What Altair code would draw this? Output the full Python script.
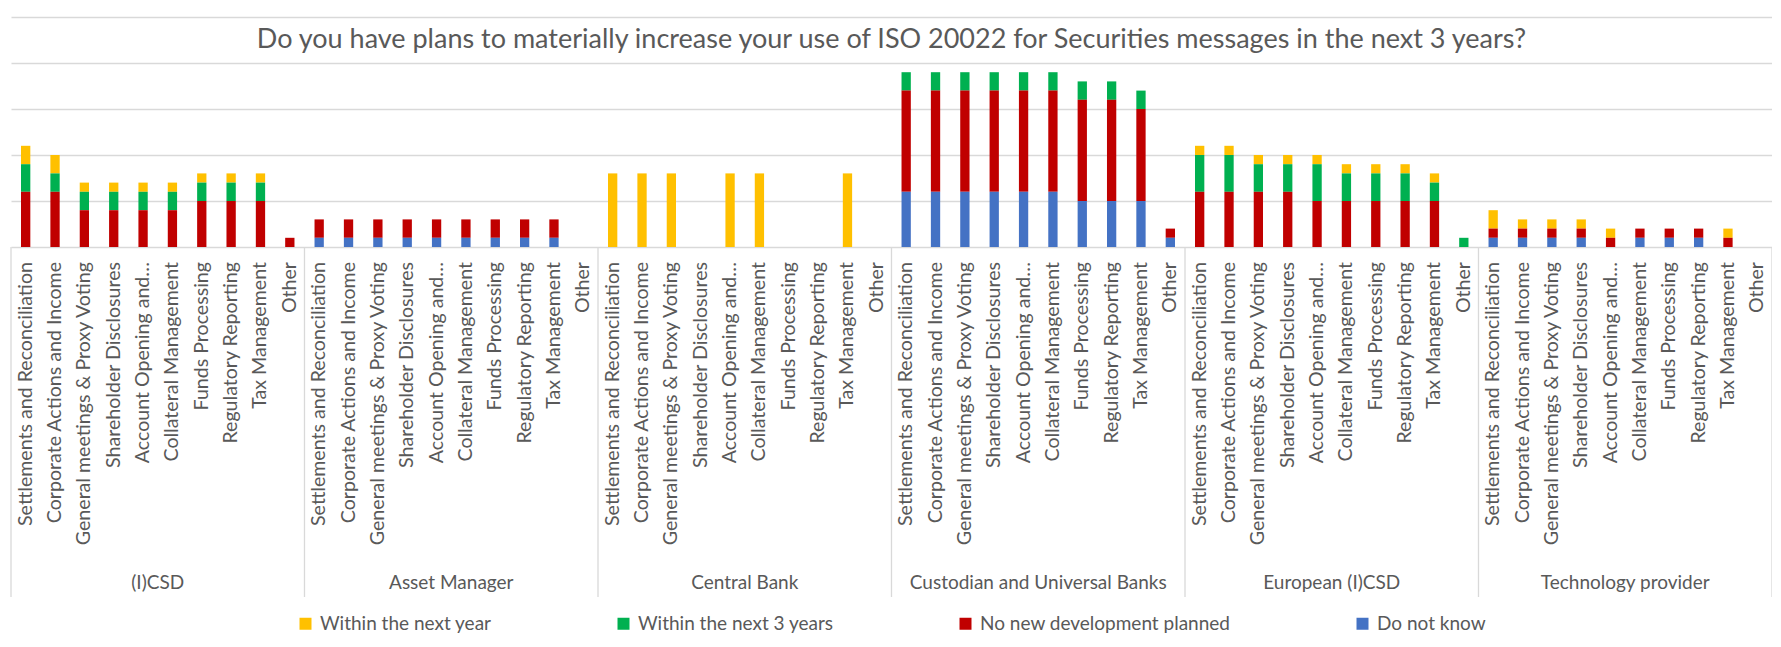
import altair as alt
import pandas as pd

groups = ["(I)CSD", "Asset Manager", "Central Bank", "Custodian and Universal Banks",
          "European (I)CSD", "Technology provider"]
topics = ["Settlements and Reconciliation", "Corporate Actions and Income",
          "General meetings & Proxy Voting", "Shareholder Disclosures",
          "Account Opening and…", "Collateral Management", "Funds Processing",
          "Regulatory Reporting", "Tax Management", "Other"]
series = ["Within the next year", "Within the next 3 years",
          "No new development planned", "Do not know"]
colors = ["#FFC000", "#00B050", "#C00000", "#4472C4"]
title_text = "Do you have plans to materially increase your use of ISO 20022 for Securities messages in the next 3 years?"

# values per group (10 topics each), group order as above
within_next_year = [
    2, 2, 1, 1, 1, 1, 1, 1, 1, 0,
    0, 0, 0, 0, 0, 0, 0, 0, 0, 0,
    8, 8, 8, 0, 8, 8, 0, 0, 8, 0,
    0, 0, 0, 0, 0, 0, 0, 0, 0, 0,
    1, 1, 1, 1, 1, 1, 1, 1, 1, 0,
    2, 1, 1, 1, 1, 0, 0, 0, 1, 0,
]
within_next_3_years = [
    3, 2, 2, 2, 2, 2, 2, 2, 2, 0,
    0, 0, 0, 0, 0, 0, 0, 0, 0, 0,
    0, 0, 0, 0, 0, 0, 0, 0, 0, 0,
    2, 2, 2, 2, 2, 2, 2, 2, 2, 0,
    4, 4, 3, 3, 4, 3, 3, 3, 2, 1,
    0, 0, 0, 0, 0, 0, 0, 0, 0, 0,
]
no_new_development = [
    6, 6, 4, 4, 4, 4, 5, 5, 5, 1,
    2, 2, 2, 2, 2, 2, 2, 2, 2, 0,
    0, 0, 0, 0, 0, 0, 0, 0, 0, 0,
    11, 11, 11, 11, 11, 11, 11, 11, 10, 1,
    6, 6, 6, 6, 5, 5, 5, 5, 5, 0,
    1, 1, 1, 1, 1, 1, 1, 1, 1, 0,
]
do_not_know = [
    0, 0, 0, 0, 0, 0, 0, 0, 0, 0,
    1, 1, 1, 1, 1, 1, 1, 1, 1, 0,
    0, 0, 0, 0, 0, 0, 0, 0, 0, 0,
    6, 6, 6, 6, 6, 6, 5, 5, 5, 1,
    0, 0, 0, 0, 0, 0, 0, 0, 0, 0,
    1, 1, 1, 1, 0, 1, 1, 1, 0, 0,
]

FONT = "Lato"
TXT = "#595959"
GRID = "#D9D9D9"
W, H = 1761, 230

all_vals = [within_next_year, within_next_3_years, no_new_development, do_not_know]
keys = []
topic_of_key = []
rows = []
for gi, g in enumerate(groups):
    for ti, t in enumerate(topics):
        idx = gi * 10 + ti
        key = f"{gi:02d}{ti:02d}|{t}"
        keys.append(key)
        topic_of_key.append(t)
        for si, s in enumerate(series):
            v = all_vals[si][idx]
            if v > 0:
                rows.append(dict(key=key, group=g, topic=t, series=s,
                                 value=v, stackorder=3 - si))
df = pd.DataFrame(rows)

xscale = alt.Scale(domain=keys, paddingInner=0, paddingOuter=0)

bars = alt.Chart(df).mark_bar(width=alt.RelativeBandSize(0.317)).encode(
    x=alt.X("key:N", scale=xscale, sort=keys, axis=None),
    y=alt.Y("value:Q", stack="zero",
            scale=alt.Scale(domain=[0, 25], nice=False),
            axis=alt.Axis(title=None, labels=False, ticks=False, domain=False,
                          values=[0, 5, 10, 15, 20, 25], gridColor=GRID, gridWidth=1.3)),
    color=alt.Color("series:N",
                    scale=alt.Scale(domain=series, range=colors),
                    legend=alt.Legend(orient="none", legendX=285, legendY=597,
                                      direction="horizontal", title=None,
                                      symbolType="square", symbolSize=144,
                                      symbolStrokeWidth=0, labelFont=FONT,
                                      labelFontSize=19, labelColor=TXT,
                                      labelOffset=5, columnPadding=122,
                                      padding=0, labelLimit=500)),
    order=alt.Order("stackorder:Q", sort="ascending"),
)

ldf = pd.DataFrame({"key": keys, "topic": topic_of_key})
topic_labels = alt.Chart(ldf).mark_text(
    font=FONT, fontSize=19.6, color=TXT, angle=270, align="right", baseline="middle"
).encode(
    x=alt.X("key:N", scale=xscale, sort=keys, axis=None),
    y=alt.value(245),
    text="topic:N",
)

gdf = pd.DataFrame({"group": groups,
                    "mid": [keys[gi * 10 + 4] for gi in range(len(groups))],
                    "start": [keys[gi * 10] for gi in range(len(groups))]})
edf = pd.DataFrame({"end": [keys[-1]]})

group_labels = alt.Chart(gdf).mark_text(
    font=FONT, fontSize=19, color=TXT, align="center", baseline="alphabetic"
).encode(
    x=alt.X("mid:N", scale=xscale, sort=keys, bandPosition=1, axis=None),
    y=alt.value(572),
    text="group:N",
)

seps = alt.Chart(gdf).mark_rule(color=GRID, strokeWidth=1.3).encode(
    x=alt.X("start:N", scale=xscale, sort=keys, bandPosition=0, axis=None),
    y=alt.value(H), y2=alt.value(580),
)
sep_end = alt.Chart(edf).mark_rule(color=GRID, strokeWidth=1.3).encode(
    x=alt.X("end:N", scale=xscale, sort=keys, bandPosition=1, axis=None),
    y=alt.value(H), y2=alt.value(580),
)

title = alt.Chart(pd.DataFrame({"t": [title_text]})).mark_text(
    font=FONT, fontSize=27, color=TXT, align="center", baseline="alphabetic"
).encode(x=alt.value(W / 2), y=alt.value(31), text="t:N")

chart = alt.layer(bars, seps, sep_end, topic_labels, group_labels, title).properties(
    width=W, height=H,
    padding={"left": 3, "top": 9, "right": 0, "bottom": 387},
    autosize=alt.AutoSizeParams(type="none"),
    background="white",
).configure_view(stroke=None)

chart.save("out.html", embed_options={"renderer": "svg", "actions": False})
